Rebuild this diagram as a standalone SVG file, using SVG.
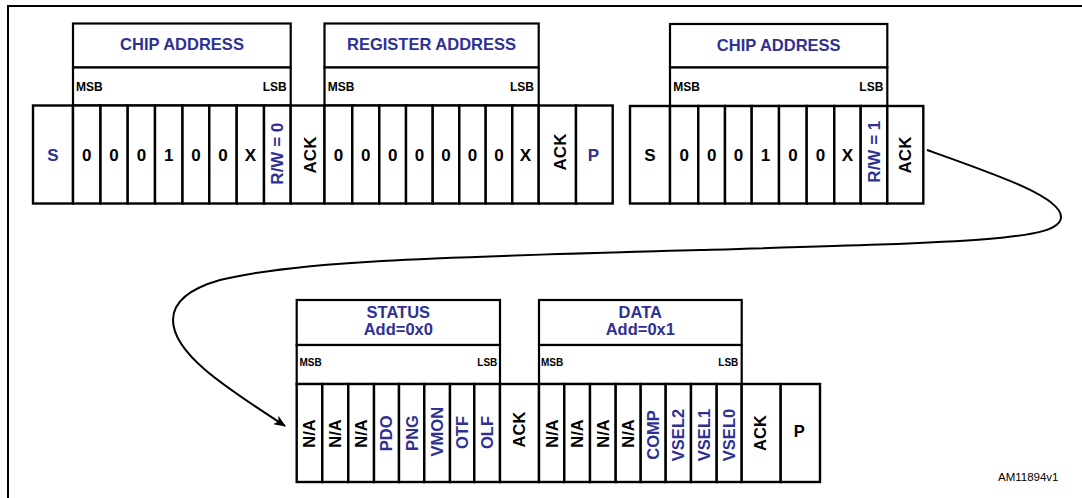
<svg xmlns="http://www.w3.org/2000/svg" width="1082" height="498" viewBox="0 0 1082 498">
<style>
text{font-family:"Liberation Sans",Arial,sans-serif;font-weight:bold;fill:#000}
.b{fill:#2E3192}
.hd{font-size:16.5px;text-anchor:middle;fill:#2E3192}
.ms{font-size:12px}
.ms2{font-size:10px}
.c{font-size:17px;text-anchor:middle}
.r{font-size:17px;text-anchor:middle}
.r2{font-size:16.5px;text-anchor:middle}
.cell{fill:#fff;stroke:#000;stroke-width:2.4}
.hbox{fill:#fff;stroke:#000;stroke-width:2.2}
.frame{fill:none;stroke:#000;stroke-width:2}
.conn{fill:none;stroke:#000;stroke-width:2}
</style>
<defs>
<marker id="arr" viewBox="0 0 12 10" refX="11" refY="5" markerWidth="12" markerHeight="10" markerUnits="userSpaceOnUse" orient="auto">
<path d="M0,0 L12,5 L0,10 L3,5 Z" fill="#000"/>
</marker>
</defs>
<rect width="1082" height="498" fill="#fff"/>
<path class="frame" d="M8,498 V6 H1082"/>

<g id="frame-write">
<rect class="hbox" x="73" y="23.5" width="217.7" height="44"/>
<rect class="hbox" x="73" y="67.5" width="217.7" height="38"/>
<text class="hd" x="182" y="50">CHIP ADDRESS</text>
<text class="ms" x="76" y="90.7">MSB</text>
<text class="ms" x="286.7" y="90.7" text-anchor="end">LSB</text>
<rect class="hbox" x="324.5" y="23.5" width="214.2" height="44"/>
<rect class="hbox" x="324.5" y="67.5" width="214.2" height="38"/>
<text class="hd" x="431.5" y="50">REGISTER ADDRESS</text>
<text class="ms" x="327.7" y="90.7">MSB</text>
<text class="ms" x="534" y="90.7" text-anchor="end">LSB</text>
<rect class="cell" x="33" y="105.5" width="40" height="98"/>
<rect class="cell" x="73" y="105.5" width="27.5" height="98"/>
<rect class="cell" x="100.5" y="105.5" width="27.2" height="98"/>
<rect class="cell" x="127.7" y="105.5" width="27.3" height="98"/>
<rect class="cell" x="155" y="105.5" width="27.5" height="98"/>
<rect class="cell" x="182.5" y="105.5" width="26.8" height="98"/>
<rect class="cell" x="209.3" y="105.5" width="27.4" height="98"/>
<rect class="cell" x="236.7" y="105.5" width="27.3" height="98"/>
<rect class="cell" x="264" y="105.5" width="26.7" height="98"/>
<rect class="cell" x="290.7" y="105.5" width="33.8" height="98"/>
<rect class="cell" x="324.5" y="105.5" width="27.8" height="98"/>
<rect class="cell" x="352.3" y="105.5" width="27" height="98"/>
<rect class="cell" x="379.3" y="105.5" width="26.7" height="98"/>
<rect class="cell" x="406" y="105.5" width="26.7" height="98"/>
<rect class="cell" x="432.7" y="105.5" width="26.6" height="98"/>
<rect class="cell" x="459.3" y="105.5" width="26.4" height="98"/>
<rect class="cell" x="485.7" y="105.5" width="26.6" height="98"/>
<rect class="cell" x="512.3" y="105.5" width="26.4" height="98"/>
<rect class="cell" x="538.7" y="105.5" width="37.3" height="98"/>
<rect class="cell" x="576" y="105.5" width="36.7" height="98"/>
<text class="c b" x="53" y="160.5">S</text>
<text class="c" x="86.8" y="160.5">0</text>
<text class="c" x="114.1" y="160.5">0</text>
<text class="c" x="141.4" y="160.5">0</text>
<text class="c" x="168.8" y="160.5">1</text>
<text class="c" x="195.9" y="160.5">0</text>
<text class="c" x="223" y="160.5">0</text>
<text class="c" x="250.4" y="160.5">X</text>
<text class="r b" transform="translate(277.3,153.7) rotate(-90)" y="6.1">R/W = 0</text>
<text class="r" transform="translate(310,155) rotate(-90)" y="6.1">ACK</text>
<text class="c" x="338.4" y="160.5">0</text>
<text class="c" x="365.8" y="160.5">0</text>
<text class="c" x="392.7" y="160.5">0</text>
<text class="c" x="419.4" y="160.5">0</text>
<text class="c" x="446" y="160.5">0</text>
<text class="c" x="472.5" y="160.5">0</text>
<text class="c" x="499" y="160.5">0</text>
<text class="c" x="525.5" y="160.5">X</text>
<text class="r" transform="translate(559.5,152) rotate(-90)" y="6.1">ACK</text>
<text class="c b" x="593.5" y="160.5">P</text>
</g>

<g id="frame-read">
<rect class="hbox" x="670" y="24" width="217.3" height="43.5"/>
<rect class="hbox" x="670" y="67.5" width="217.3" height="38.5"/>
<text class="hd" x="778.7" y="50.5">CHIP ADDRESS</text>
<text class="ms" x="673.3" y="90.7">MSB</text>
<text class="ms" x="883.3" y="90.7" text-anchor="end">LSB</text>
<rect class="cell" x="630" y="106" width="40" height="97.5"/>
<rect class="cell" x="670" y="106" width="28.3" height="97.5"/>
<rect class="cell" x="698.3" y="106" width="26.7" height="97.5"/>
<rect class="cell" x="725" y="106" width="26.7" height="97.5"/>
<rect class="cell" x="751.7" y="106" width="27.3" height="97.5"/>
<rect class="cell" x="779" y="106" width="27.7" height="97.5"/>
<rect class="cell" x="806.7" y="106" width="27.6" height="97.5"/>
<rect class="cell" x="834.3" y="106" width="26.4" height="97.5"/>
<rect class="cell" x="860.7" y="106" width="26.6" height="97.5"/>
<rect class="cell" x="887.3" y="106" width="36" height="97.5"/>
<text class="c" x="650" y="160.5">S</text>
<text class="c" x="684.2" y="160.5">0</text>
<text class="c" x="711.7" y="160.5">0</text>
<text class="c" x="738.4" y="160.5">0</text>
<text class="c" x="765.4" y="160.5">1</text>
<text class="c" x="792.9" y="160.5">0</text>
<text class="c" x="820.5" y="160.5">0</text>
<text class="c" x="847.5" y="160.5">X</text>
<text class="r b" transform="translate(873.5,151.7) rotate(-90)" y="6.1">R/W = 1</text>
<text class="r" transform="translate(905.3,155) rotate(-90)" y="6.1">ACK</text>
</g>

<g id="frame-data">
<rect class="hbox" x="296.7" y="300" width="203.3" height="45"/>
<rect class="hbox" x="296.7" y="345" width="203.3" height="39"/>
<text class="hd" x="398.3" y="318.3">STATUS</text>
<text class="hd" x="398.3" y="335">Add=0x0</text>
<text class="ms2" x="299.5" y="366">MSB</text>
<text class="ms2" x="497.3" y="366" text-anchor="end">LSB</text>
<rect class="hbox" x="539" y="300" width="202.7" height="45"/>
<rect class="hbox" x="539" y="345" width="202.7" height="39"/>
<text class="hd" x="640.3" y="318.3">DATA</text>
<text class="hd" x="640.3" y="335">Add=0x1</text>
<text class="ms2" x="541" y="366">MSB</text>
<text class="ms2" x="738.3" y="366" text-anchor="end">LSB</text>
<rect class="cell" x="296.7" y="384" width="25.6" height="98"/>
<rect class="cell" x="322.3" y="384" width="26" height="98"/>
<rect class="cell" x="348.3" y="384" width="25.7" height="98"/>
<rect class="cell" x="374" y="384" width="25" height="98"/>
<rect class="cell" x="399" y="384" width="25.3" height="98"/>
<rect class="cell" x="424.3" y="384" width="25.7" height="98"/>
<rect class="cell" x="450" y="384" width="24.3" height="98"/>
<rect class="cell" x="474.3" y="384" width="25.7" height="98"/>
<rect class="cell" x="500" y="384" width="39" height="98"/>
<rect class="cell" x="539" y="384" width="25.3" height="98"/>
<rect class="cell" x="564.3" y="384" width="25.7" height="98"/>
<rect class="cell" x="590" y="384" width="25.7" height="98"/>
<rect class="cell" x="615.7" y="384" width="25" height="98"/>
<rect class="cell" x="640.7" y="384" width="25" height="98"/>
<rect class="cell" x="665.7" y="384" width="25.3" height="98"/>
<rect class="cell" x="691" y="384" width="25.7" height="98"/>
<rect class="cell" x="716.7" y="384" width="25" height="98"/>
<rect class="cell" x="741.7" y="384" width="39" height="98"/>
<rect class="cell" x="780.7" y="384" width="39.3" height="98"/>
<text class="r2" transform="translate(309.5,433.5) rotate(-90)" y="5.9">N/A</text>
<text class="r2" transform="translate(335.3,433.5) rotate(-90)" y="5.9">N/A</text>
<text class="r2" transform="translate(361.2,433.5) rotate(-90)" y="5.9">N/A</text>
<text class="r2 b" transform="translate(386.5,433.3) rotate(-90)" y="5.9">PDO</text>
<text class="r2 b" transform="translate(411.7,433) rotate(-90)" y="5.9">PNG</text>
<text class="r2 b" transform="translate(437.2,431.7) rotate(-90)" y="5.9">VMON</text>
<text class="r2 b" transform="translate(462.2,432.5) rotate(-90)" y="5.9">OTF</text>
<text class="r2 b" transform="translate(487.2,432.5) rotate(-90)" y="5.9">OLF</text>
<text class="r2" transform="translate(519.5,429.5) rotate(-90)" y="5.9">ACK</text>
<text class="r2" transform="translate(551.7,433.5) rotate(-90)" y="5.9">N/A</text>
<text class="r2" transform="translate(577.2,433.5) rotate(-90)" y="5.9">N/A</text>
<text class="r2" transform="translate(602.8,433.5) rotate(-90)" y="5.9">N/A</text>
<text class="r2" transform="translate(628.2,433.5) rotate(-90)" y="5.9">N/A</text>
<text class="r2 b" transform="translate(653.2,435) rotate(-90)" y="5.9">COMP</text>
<text class="r2 b" transform="translate(678.3,435) rotate(-90)" y="5.9">VSEL2</text>
<text class="r2 b" transform="translate(703.8,435) rotate(-90)" y="5.9">VSEL1</text>
<text class="r2 b" transform="translate(729.2,435) rotate(-90)" y="5.9">VSEL0</text>
<text class="r2" transform="translate(760,433) rotate(-90)" y="5.9">ACK</text>
<text class="c" x="799.3" y="436.7" style="font-size:16.5px">P</text>
</g>

<g id="connectors">
<path class="conn" marker-end="url(#arr)" d="M927,150 C1000,176 1061,197 1061,217 C1061,240 980,242 700,250 C450,257 300,260 220,280 C185,290 173,305 173,320 C173,355 230,390 285,426"/>
</g>

<text x="1058.5" y="481" text-anchor="end" style="font-weight:normal;font-size:11.5px">AM11894v1</text>
</svg>
